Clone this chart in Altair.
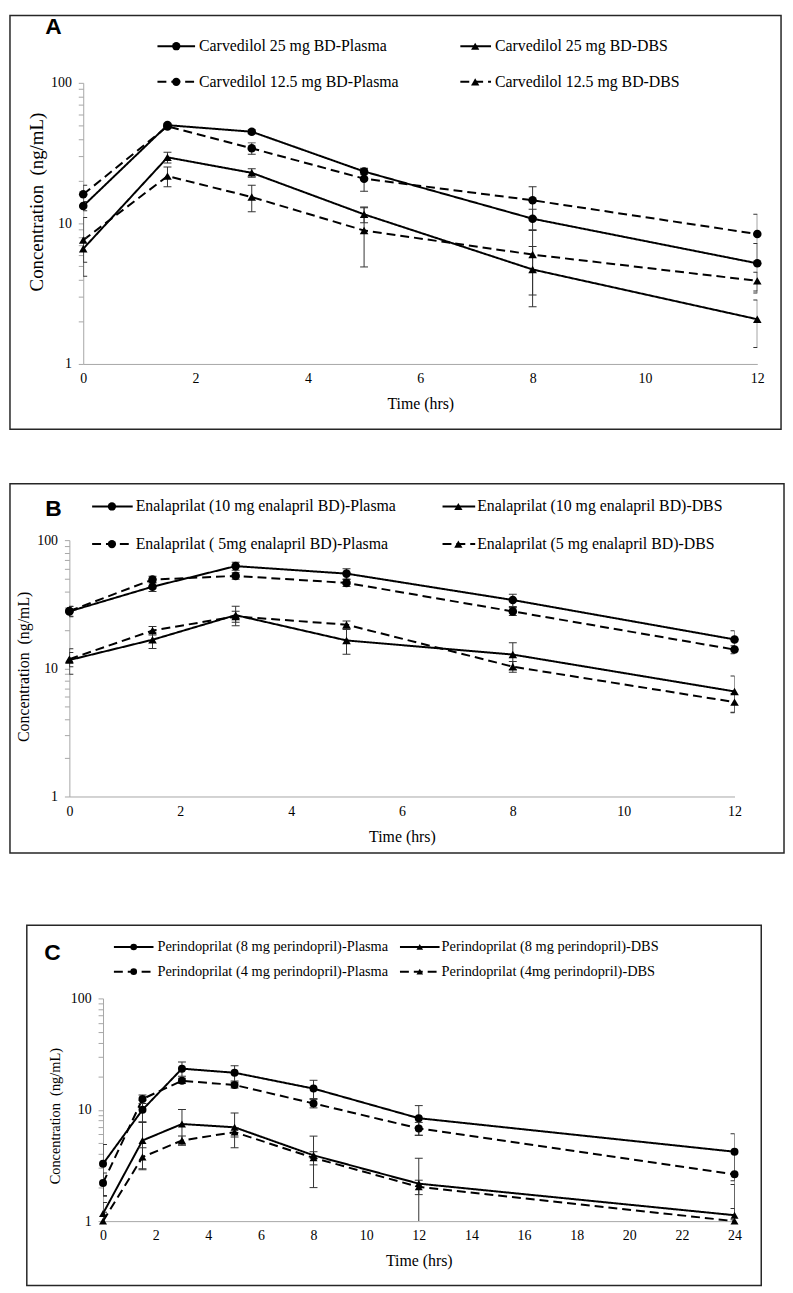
import altair as alt
import pandas as pd

# ---------------- data ----------------
Y_TICKS = [1, 2, 3, 4, 5, 6, 7, 8, 9, 10, 20, 30, 40, 50, 60, 70, 80, 90, 100]

# Panel A - carvedilol
A_TIMES = [0, 1.5, 3, 5, 8, 12]
A_LABELS = ["Carvedilol 25 mg BD-Plasma", "Carvedilol 25 mg BD-DBS",
            "Carvedilol 12.5 mg BD-Plasma", "Carvedilol 12.5 mg BD-DBS"]
A_P_HIGH = [13.3, 50.0, 44.9, 23.4, 10.8, 5.2]
A_P_HIGH_SD = [1.0, 1.5, 1.5, 1.0, 1.8, 2.0]
A_D_HIGH = [6.6, 29.5, 22.9, 11.6, 4.7, 2.08]
A_D_HIGH_SD = [1.3, 2.6, 1.6, 1.5, 2.15, 0.77]
A_P_LOW = [16.1, 49.0, 34.2, 20.8, 14.6, 8.4]
A_P_LOW_SD = [2.6, 1.5, 3.2, 3.9, 3.6, 3.2]
A_D_LOW = [7.6, 21.7, 15.4, 8.9, 6.0, 3.9]
A_D_LOW_SD = [3.4, 3.5, 3.3, 4.0, 2.9, 0.6]

# Panel B - enalaprilat
B_TIMES = [0, 1.5, 3, 5, 8, 12]
B_LABELS = ["Enalaprilat (10 mg enalapril BD)-Plasma", "Enalaprilat (10 mg enalapril BD)-DBS",
            "Enalaprilat ( 5mg enalapril BD)-Plasma", "Enalaprilat (5 mg  enalapril BD)-DBS"]
B_P_HIGH = [27.8, 43.3, 62.7, 54.8, 34.1, 16.8]
B_P_HIGH_SD = [2.5, 3.5, 4.5, 5.0, 3.8, 2.8]
B_D_HIGH = [11.6, 16.7, 26.0, 16.5, 12.8, 6.6]
B_D_HIGH_SD = [2.6, 2.4, 4.5, 3.6, 3.0, 2.1]
B_P_LOW = [28.0, 49.2, 52.6, 46.4, 27.8, 14.0]
B_P_LOW_SD = [2.5, 3.0, 3.0, 3.0, 2.0, 1.0]
B_D_LOW = [11.8, 19.7, 25.4, 21.9, 10.3, 5.45]
B_D_LOW_SD = [1.5, 1.5, 2.5, 1.5, 1.0, 0.9]

# Panel C - perindoprilat
C_TIMES = [0, 1.5, 3, 5, 8, 12, 24]
C_LABELS = ["Perindoprilat (8 mg perindopril)-Plasma", "Perindoprilat (8 mg perindopril)-DBS",
            "Perindoprilat (4 mg perindopril)-Plasma", "Perindoprilat (4mg perindopril)-DBS"]
C_P_HIGH = [3.27, 10.0, 23.4, 21.5, 15.5, 8.4, 4.2]
C_P_HIGH_SD = [1.6, 2.2, 3.4, 3.4, 2.9, 2.5, 1.9]
C_D_HIGH = [1.17, 5.3, 7.45, 6.96, 3.9, 2.17, 1.13]
C_D_HIGH_SD = [0.3, 2.4, 2.6, 2.4, 1.9, 1.5, 1.0]
C_P_LOW = [2.2, 12.5, 18.2, 16.7, 11.4, 6.8, 2.63]
C_P_LOW_SD = [0.5, 1.1, 1.0, 1.0, 1.0, 0.9, 1.6]
C_D_LOW = [1.0, 3.76, 5.3, 6.3, 3.7, 2.03, 1.0]
C_D_LOW_SD = [0.2, 0.8, 0.5, 0.6, 0.5, 0.3, 0.3]

SERIF = "Liberation Serif"
INK = "#000000"
AXIS_GREY = "#a6a6a6"


def make_df(times, labels, means, sds):
    rows = []
    for i, (lab, m, s) in enumerate(zip(labels, means, sds)):
        dose = "high" if i < 2 else "low"
        matrix = "Plasma" if i % 2 == 0 else "DBS"
        for t, v, e in zip(times, m, s):
            rows.append(dict(series=lab, dose=dose, matrix=matrix, time=t,
                             value=v, lo=max(v - e, 0.5), hi=v + e))
    return pd.DataFrame(rows)


def one(label):
    return pd.DataFrame({"label": [label]})


def panel(df, labels, letter, w, h, xmax, lay):
    xscale = alt.Scale(domain=[0, xmax], nice=False, zero=False)
    yscale = alt.Scale(type="log", domain=[1, 100], nice=False)
    x_axis = alt.Axis(values=list(range(0, xmax + 1, 2)), ticks=False, grid=False,
                      title="Time (hrs)", titleX=w / 2, titleY=lay["xt"],
                      titleAlign="center", titleBaseline="middle", labelPadding=8,
                      labelFlush=False)
    y_axis = alt.Axis(values=Y_TICKS, grid=False, tickSize=5, labelPadding=7,
                      labelOverlap=False,
                      labelExpr="(datum.value == 1 || datum.value == 10 || datum.value == 100) ? datum.label : ''",
                      title="Concentration \u00a0(ng/mL)", titleX=lay["yt"],
                      titleY=h / 2 + lay["yty"], titleFontSize=lay["ytfs"],
                      titleAngle=270, titleAlign="center", titleBaseline="middle")
    X = alt.X("time:Q", scale=xscale, axis=x_axis)

    dash = alt.StrokeDash("dose:N", scale=alt.Scale(domain=["high", "low"], range=[[1, 0], [9, 5]]),
                          legend=None)
    shape = alt.Shape("matrix:N", scale=alt.Scale(domain=["Plasma", "DBS"],
                                                  range=["circle", "triangle-up"]), legend=None)

    base = alt.Chart(df)
    lines = base.mark_line(strokeWidth=2, color=INK).encode(
        x=X, y=alt.Y("value:Q", scale=yscale, axis=y_axis), detail="series:N", strokeDash=dash)
    err = base.mark_rule(color="#333333", strokeWidth=1, clip=True).encode(
        x=X, y=alt.Y("lo:Q", scale=yscale, axis=y_axis), y2="hi:Q")
    cap_lo = base.mark_tick(orient="horizontal", size=8, thickness=1, color="#333333",
                            clip=True, opacity=1).encode(
        x=X, y=alt.Y("lo:Q", scale=yscale, axis=y_axis))
    cap_hi = base.mark_tick(orient="horizontal", size=8, thickness=1, color="#333333",
                            clip=True, opacity=1).encode(
        x=X, y=alt.Y("hi:Q", scale=yscale, axis=y_axis))
    pts = base.mark_point(filled=True, opacity=1, color=INK, size=lay["msize"]).encode(
        x=X, y=alt.Y("value:Q", scale=yscale, axis=y_axis), shape=shape)

    layers = [lines, err, cap_lo, cap_hi, pts]

    # frame around the panel
    bx0, bx1, by0, by1 = lay["border"]
    layers.append(alt.Chart(one(letter)).mark_rect(fillOpacity=0, stroke="#262626", strokeWidth=1.5).encode(
        x=alt.value(bx0), x2=alt.value(bx1), y=alt.value(by0), y2=alt.value(by1)))
    if lay.get("spacer"):
        layers.append(alt.Chart(one(letter)).mark_rect(opacity=0).encode(
            x=alt.value(bx0), x2=alt.value(bx0 + 2), y=alt.value(by0 - lay["spacer"]), y2=alt.value(by0)))

    # panel letter
    lx, ly = lay["letter"]
    layers.append(alt.Chart(one(letter)).mark_text(font="Liberation Sans", fontWeight="bold",
                                                   fontSize=23, align="center", baseline="middle",
                                                   color=INK).encode(
        x=alt.value(lx), y=alt.value(ly), text="label:N"))

    # custom legend (line + marker + text)
    shapes = ["circle", "triangle-up", "circle", "triangle-up"]
    dashes = [[1, 0], [1, 0], [9, 5], [9, 5]]
    for k, lab in enumerate(labels):
        col = k % 2
        row = k // 2
        x0, x1, mx, tx = lay["legcols"][col]
        yy = lay["legrows"][row]
        d = one(lab)
        layers.append(alt.Chart(d).mark_rule(strokeWidth=2, color=INK, strokeDash=dashes[k]).encode(
            x=alt.value(x0), x2=alt.value(x1), y=alt.value(yy)))
        layers.append(alt.Chart(d).mark_point(shape=shapes[k], filled=True, opacity=1, color=INK,
                                              size=lay["lsize"]).encode(
            x=alt.value(mx), y=alt.value(yy)))
        layers.append(alt.Chart(d).mark_text(font=SERIF, fontSize=lay["lfont"], align="left",
                                             baseline="middle", color=INK).encode(
            x=alt.value(tx), y=alt.value(yy), text="label:N"))

    return alt.layer(*layers).properties(width=w, height=h)


def spacer(wd):
    return alt.Chart(one("")).mark_rect(opacity=0).encode(
        x=alt.value(0), x2=alt.value(wd), y=alt.value(0), y2=alt.value(1)
    ).properties(width=wd, height=1)


dfA = make_df(A_TIMES, A_LABELS, [A_P_HIGH, A_D_HIGH, A_P_LOW, A_D_LOW],
              [A_P_HIGH_SD, A_D_HIGH_SD, A_P_LOW_SD, A_D_LOW_SD])
dfB = make_df(B_TIMES, B_LABELS, [B_P_HIGH, B_D_HIGH, B_P_LOW, B_D_LOW],
              [B_P_HIGH_SD, B_D_HIGH_SD, B_P_LOW_SD, B_D_LOW_SD])
dfC = make_df(C_TIMES, C_LABELS, [C_P_HIGH, C_D_HIGH, C_P_LOW, C_D_LOW],
              [C_P_HIGH_SD, C_D_HIGH_SD, C_P_LOW_SD, C_D_LOW_SD])

layA = dict(border=(-74, 705, -68, 350), letter=(-30, -56), xt=40, yt=-47, yty=-22, ytfs=19,
            legrows=[-37, -1], legcols=[(75, 113, 94, 117), (381, 412, 396, 416)],
            msize=75, lsize=70, lfont=16)
layB = dict(border=(-60, 722, -57, 316), letter=(-16, -31), xt=40, yt=-46, yty=-2, ytfs=16,
            legrows=[-34, 4], legcols=[(23, 64, 43, 67), (377, 410, 393, 412)],
            msize=75, lsize=70, lfont=16)
layC = dict(border=(-77, 665, -74, 290), letter=(-51, -46), xt=40, yt=-48, yty=6, ytfs=14.5,
            legrows=[-52, -27], legcols=[(11, 51, 31, 55), (300, 340, 320, 342)],
            msize=65, lsize=45, lfont=14.5, spacer=19)

pA = panel(dfA, A_LABELS, "A", 681, 284, 12, layA)
pB = panel(dfB, B_LABELS, "B", 672, 259, 12, layB)
pC = panel(dfC, C_LABELS, "C", 638, 225, 24, layC)

rowA = alt.hconcat(spacer(1), pA, spacing=0)
rowB = alt.hconcat(spacer(1), pB, spacing=0)
rowC = alt.hconcat(spacer(18), pC, spacing=0)

chart = alt.vconcat(rowA, rowB, rowC, spacing=53).properties(
    padding={"left": 0, "top": 0, "right": 0, "bottom": 0}
).configure_view(stroke=None).configure_axis(
    labelFont=SERIF, labelFontSize=14, labelColor=INK,
    titleFont=SERIF, titleFontSize=16, titleFontWeight="normal", titleColor=INK,
    domainColor=AXIS_GREY, tickColor=AXIS_GREY, domainWidth=1
)

chart.save("out.html", embed_options={"renderer": "svg", "actions": False})
